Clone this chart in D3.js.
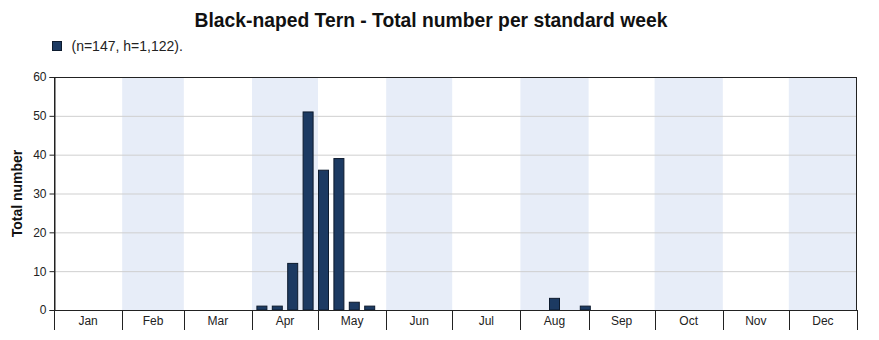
<!DOCTYPE html>
<html>
<head>
<meta charset="utf-8">
<script src="https://cdn.jsdelivr.net/npm/d3@7"></script>
<style>
  html, body { margin: 0; padding: 0; background: #fff; }
  svg { display: block; font-family: "Liberation Sans", Arial, sans-serif; }
</style>
</head>
<body>
<svg id="chart" width="879" height="340"></svg>
<script>
// Standard weeks (1..52) with a recorded total, and their totals
const weeks  = [14, 15, 16, 17, 18, 19, 20, 21, 33, 35];
const totals = [1, 1, 12, 51, 36, 39, 2, 1, 3, 1];

const months     = ["Jan","Feb","Mar","Apr","May","Jun","Jul","Aug","Sep","Oct","Nov","Dec"];
const monthDays  = [31, 28, 31, 30, 31, 30, 31, 31, 30, 31, 30, 31];
const yTicks     = [0, 10, 20, 30, 40, 50, 60];

const titleText  = "Black-naped Tern - Total number per standard week";
const legendText = "(n=147, h=1,122).";
const yTitle     = "Total number";

const barColor  = "#1c3a62";
const bandColor = "#e7edf8";

const svg = d3.select("#chart");
const m = { left: 54, right: 22, top: 77, bottom: 30 };
const W = 879, H = 340;
const pw = W - m.left - m.right, ph = H - m.top - m.bottom;

// x runs over days of the year
const x = d3.scaleLinear().domain([0, 365]).range([m.left, m.left + pw]);
const y = d3.scaleLinear().domain([0, 60]).range([m.top + ph, m.top]);

const starts = d3.cumsum([0, ...monthDays]);
const monthData = months.map((name, i) => ({ name, start: starts[i], end: starts[i + 1], i }));

// alternate month shading
svg.append("g").selectAll("rect")
  .data(monthData.filter(d => d.i % 2 === 1))
  .join("rect")
  .attr("x", d => x(d.start)).attr("width", d => x(d.end) - x(d.start))
  .attr("y", y(60)).attr("height", y(0) - y(60))
  .attr("fill", bandColor);

// horizontal grid lines
svg.append("g").selectAll("line")
  .data(yTicks.filter(v => v > 0 && v < 60))
  .join("line")
  .attr("x1", x(0)).attr("x2", x(365))
  .attr("y1", d => y(d) + 0.5).attr("y2", d => y(d) + 0.5)
  .attr("stroke", "#cfcfcf").attr("stroke-width", 1);

// bars, centred on the middle day of each standard week
const barW = 10;
svg.append("g").selectAll("rect")
  .data(weeks.map((w, i) => ({ w, v: totals[i] })))
  .join("rect")
  .attr("x", d => x((d.w - 1) * 7 + 3.5) - barW / 2)
  .attr("width", barW)
  .attr("y", d => y(d.v))
  .attr("height", d => y(0) - y(d.v))
  .attr("fill", barColor)
  .attr("stroke", "#0d1b2e").attr("stroke-width", 1);

// plot frame
svg.append("rect")
  .attr("x", x(0) + 0.5).attr("y", y(60) + 0.5)
  .attr("width", x(365) - x(0) - 1).attr("height", y(0) - y(60))
  .attr("fill", "none").attr("stroke", "#222").attr("stroke-width", 1);

// y axis
const yAxis = d3.axisLeft(y).tickValues(yTicks).tickSize(5).tickPadding(3);
const ya = svg.append("g").attr("transform", `translate(${x(0) + 0.5},0)`).call(yAxis);
ya.select(".domain").attr("stroke", "#222");
ya.selectAll(".tick line").attr("stroke", "#222");
ya.selectAll("text").attr("font-size", 12).attr("fill", "#222")
  .attr("font-family", "'Liberation Sans', Arial, sans-serif");

// month separators below the axis
svg.append("g").selectAll("line")
  .data(starts)
  .join("line")
  .attr("x1", d => Math.round(x(d)) + 0.5).attr("x2", d => Math.round(x(d)) + 0.5)
  .attr("y1", y(0)).attr("y2", y(0) + 20)
  .attr("stroke", "#222").attr("stroke-width", 1);

// month labels
svg.append("g").selectAll("text")
  .data(monthData)
  .join("text")
  .attr("x", d => x((d.start + d.end) / 2))
  .attr("y", y(0) + 15)
  .attr("text-anchor", "middle")
  .attr("font-size", 12).attr("fill", "#222")
  .text(d => d.name);

// axis title
svg.append("text")
  .attr("transform", `translate(22,${(y(0) + y(60)) / 2}) rotate(-90)`)
  .attr("text-anchor", "middle")
  .attr("font-size", 14).attr("font-weight", "bold").attr("fill", "#111")
  .text(yTitle);

// title
svg.append("text")
  .attr("x", 431).attr("y", 26.5)
  .attr("text-anchor", "middle")
  .attr("font-size", 19.3).attr("font-weight", "bold").attr("fill", "#111")
  .text(titleText);

// legend
svg.append("rect")
  .attr("x", 52.5).attr("y", 41.5).attr("width", 9).attr("height", 9)
  .attr("fill", barColor).attr("stroke", "#0d1b2e");
svg.append("text")
  .attr("x", 71.5).attr("y", 51)
  .attr("font-size", 14).attr("fill", "#222")
  .text(legendText);
</script>
</body>
</html>
